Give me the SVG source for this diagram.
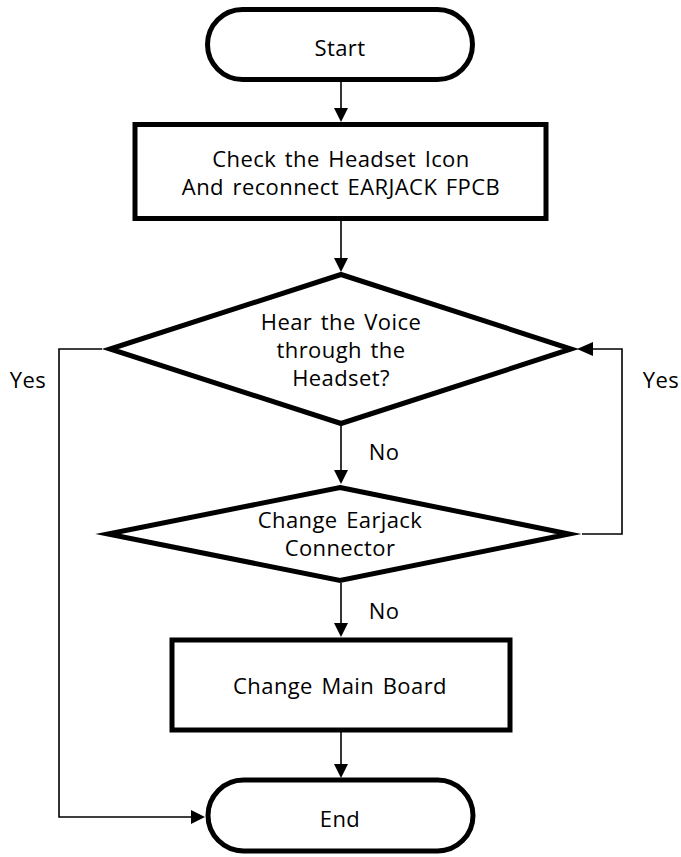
<svg xmlns="http://www.w3.org/2000/svg" width="681" height="857" viewBox="0 0 681 857">
  <style>
    .shape { fill: #ffffff; stroke: #000000; stroke-width: 5; stroke-miterlimit: 10; }
    .link { fill: none; stroke: #000000; stroke-width: 1.6; }
    .head { fill: #000000; stroke: none; }
    text { font-family: "Open Sans", "Noto Sans", "Liberation Sans", sans-serif; font-size: 22px; letter-spacing: 0.4px; word-spacing: 2.5px; fill: #000000; text-anchor: middle; }
  </style>
  <rect width="681" height="857" fill="#ffffff"/>

  <g id="connectors">
    <line class="link" x1="341" y1="82" x2="341" y2="109"/>
    <polygon class="head" points="334,108 348,108 341,122"/>
    <line class="link" x1="341" y1="221" x2="341" y2="259"/>
    <polygon class="head" points="334,258 348,258 341,272"/>
    <line class="link" x1="341" y1="426" x2="341" y2="471"/>
    <polygon class="head" points="334,470 348,470 341,484"/>
    <line class="link" x1="341" y1="583" x2="341" y2="624"/>
    <polygon class="head" points="334,623 348,623 341,637"/>
    <line class="link" x1="341" y1="732" x2="341" y2="765"/>
    <polygon class="head" points="334,764 348,764 341,778"/>
    <polyline class="link" points="102,349 59,349 59,817 192,817"/>
    <polygon class="head" points="191,810 191,824 205,817"/>
    <polyline class="link" points="582,534 622,534 622,349 592,349"/>
    <polygon class="head" points="593,342 593,356 577,349"/>
  </g>

  <g id="start">
    <rect class="shape" x="207.5" y="9.5" width="265" height="70" rx="35" ry="35"/>
    <text x="340" y="56">Start</text>
  </g>

  <g id="check-headset">
    <rect class="shape" x="135" y="124.5" width="411" height="94"/>
    <text x="341" y="167">Check the Headset Icon</text>
    <text x="341" y="195">And reconnect EARJACK FPCB</text>
  </g>

  <g id="hear-voice">
    <polygon class="shape" points="341,274.5 571,349 341,423.5 110,349"/>
    <text x="341" y="330">Hear the Voice</text>
    <text x="341" y="358">through the</text>
    <text x="341" y="386">Headset?</text>
  </g>

  <g id="change-earjack">
    <polygon class="shape" points="340,487.5 569,534 340,580.5 108,534"/>
    <text x="340" y="528">Change Earjack</text>
    <text x="340" y="556">Connector</text>
  </g>

  <g id="change-board">
    <rect class="shape" x="172" y="640" width="338" height="90"/>
    <text x="340" y="694">Change Main Board</text>
  </g>

  <g id="end">
    <rect class="shape" x="208" y="780" width="265" height="71" rx="35.5" ry="35.5"/>
    <text x="340" y="827">End</text>
  </g>

  <g id="labels">
    <text x="384" y="460">No</text>
    <text x="384" y="619">No</text>
    <text x="28" y="388">Yes</text>
    <text x="661" y="388">Yes</text>
  </g>
</svg>
